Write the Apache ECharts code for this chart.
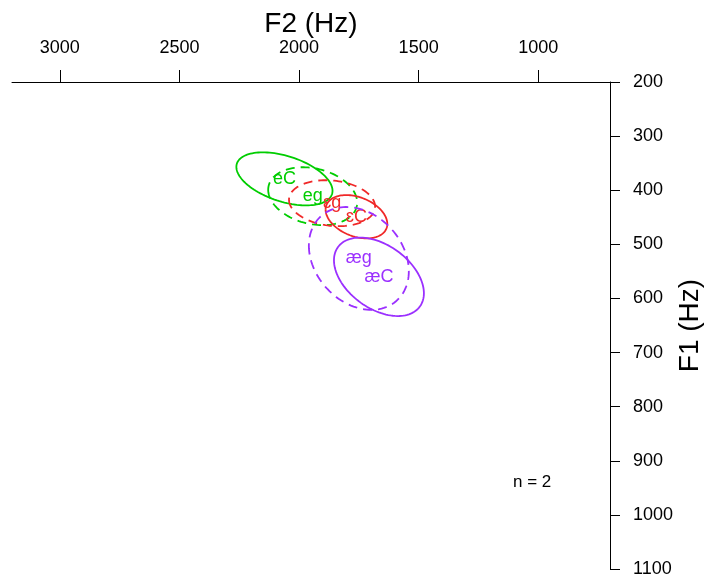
<!DOCTYPE html>
<html>
<head>
<meta charset="utf-8">
<script src="https://cdn.jsdelivr.net/npm/echarts@6/dist/echarts.min.js"></script>
<style>
html,body{margin:0;padding:0;background:#fff;}
#chart{width:720px;height:582px;}
</style>
</head>
<body>
<div id="chart"></div>
<script>
// Vowel categories (label, mean F2, mean F1, spread, correlation)
const vowels   = ['eC', 'eg', 'ɛg', 'ɛC', 'æg', 'æC'];
const f2Mean   = [2061, 1943, 1862, 1760, 1750, 1666];
const f1Mean   = [379, 411, 424, 449, 526, 560];
const f2Radius = [201, 186, 180, 129, 209, 188];
const f1Radius = [49, 53.5, 42.5, 40, 95, 72.5];
const corr     = [-0.45, -0.22, -0.15, -0.33, -0.25, -0.42];
const colorKey = ['green', 'green', 'red', 'red', 'purple', 'purple'];
const dashed   = [false, true, true, false, true, false];

const f2Ticks = [1000, 1500, 2000, 2500, 3000];
const f1Ticks = [200, 300, 400, 500, 600, 700, 800, 900, 1000, 1100];
const noteText = 'n = 2';

const palette = { green: '#00CD00', red: '#F02828', purple: '#9B30FF' };
const FONT = '"Liberation Sans", Arial, Helvetica, sans-serif';

const data = vowels.map((v, i) => [f2Mean[i], f1Mean[i], i]);

function renderItem(params, api) {
  const i = api.value(2);
  const m2 = f2Mean[i], m1 = f1Mean[i];
  const r2 = f2Radius[i], r1 = f1Radius[i], r = corr[i];
  const s = Math.sqrt(1 - r * r);
  const pts = [];
  const N = 120;
  for (let k = 0; k <= N; k++) {
    const t = 2 * Math.PI * k / N;
    const F2 = m2 + r2 * Math.cos(t);
    const F1 = m1 + r1 * (r * Math.cos(t) + s * Math.sin(t));
    pts.push(api.coord([F2, F1]));
  }
  const c = api.coord([m2, m1]);
  const col = palette[colorKey[i]];
  return {
    type: 'group',
    children: [
      {
        type: 'polyline',
        shape: { points: pts },
        style: { stroke: col, lineWidth: 1.8, fill: null, lineDash: dashed[i] ? [9, 6] : null }
      },
      {
        type: 'text',
        x: c[0], y: c[1],
        style: { text: vowels[i], fill: col, fontSize: 18, fontFamily: FONT, align: 'center', verticalAlign: 'middle' }
      }
    ]
  };
}

const plain = v => String(v);

const chart = echarts.init(document.getElementById('chart'), null, { renderer: 'canvas' });
chart.setOption({
  animation: false,
  backgroundColor: '#fff',
  textStyle: { fontFamily: FONT },
  grid: { left: 12, right: 110, top: 82, bottom: 13, containLabel: false, outerBoundsMode: 'none' },
  xAxis: {
    type: 'value',
    position: 'top',
    inverse: true,
    min: 700,
    max: 3200,
    name: 'F2 (Hz)',
    nameLocation: 'middle',
    nameGap: 44,
    nameMoveOverlap: false,
    nameTextStyle: { fontSize: 28, color: '#000', fontFamily: FONT },
    axisLine: { show: true, onZero: false, lineStyle: { color: '#000', width: 1 } },
    axisTick: { show: true, inside: false, length: 12, customValues: f2Ticks, lineStyle: { color: '#000', width: 1 } },
    axisLabel: { show: true, customValues: f2Ticks, formatter: plain, fontSize: 18, color: '#000', margin: 25, fontFamily: FONT },
    splitLine: { show: false }
  },
  yAxis: {
    type: 'value',
    position: 'right',
    inverse: true,
    min: 200,
    max: 1100,
    interval: 100,
    name: 'F1 (Hz)',
    nameLocation: 'middle',
    nameRotate: 90,
    nameGap: 66,
    nameMoveOverlap: false,
    nameTextStyle: { fontSize: 28, color: '#000', fontFamily: FONT },
    axisLine: { show: true, onZero: false, lineStyle: { color: '#000', width: 1 } },
    axisTick: { show: true, inside: false, length: 10, customValues: f1Ticks, lineStyle: { color: '#000', width: 1 } },
    axisLabel: { show: true, customValues: f1Ticks, formatter: plain, fontSize: 18, color: '#000', margin: 23, fontFamily: FONT },
    splitLine: { show: false }
  },
  graphic: [
    { type: 'text', left: 513, top: 474, style: { text: noteText, fontSize: 17, fill: '#000', fontFamily: FONT } }
  ],
  series: [
    {
      type: 'custom',
      renderItem: renderItem,
      data: data,
      encode: { x: 0, y: 1 },
      clip: false
    }
  ]
});
</script>
</body>
</html>
